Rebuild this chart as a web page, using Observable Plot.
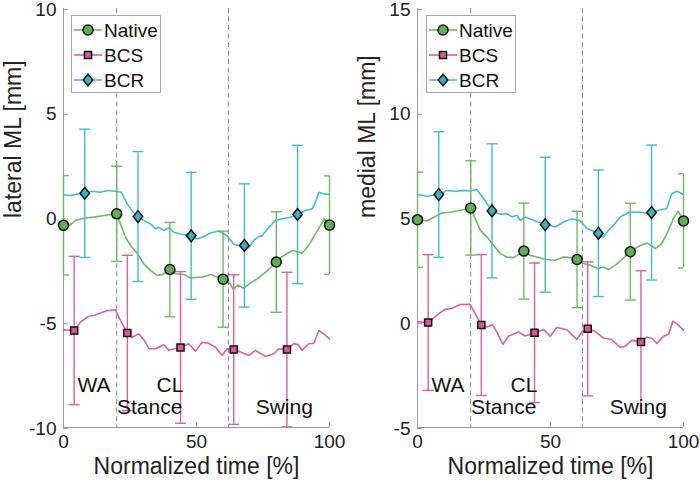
<!DOCTYPE html>
<html><head><meta charset="utf-8">
<script src="https://cdn.jsdelivr.net/npm/d3@7"></script>
<script src="https://cdn.jsdelivr.net/npm/@observablehq/plot@0.6"></script>
<style>
body{margin:0;background:#fff;font-family:"Liberation Sans",Arial,sans-serif;}
#wrap{display:flex;width:700px;height:491px;}
.panel{position:relative;width:350px;height:491px;}
.legend{position:absolute;background:#fff;border:1px solid #a8a8a8;box-sizing:border-box;}
</style></head><body><div id="wrap"></div>
<script>
// ---------- DATA ----------
const seriesNames = ["Native", "BCS", "BCR"];
const xTicks = [0, 50, 100];
const phaseLines = [20, 62];
const lateralTicks = [-10, -5, 0, 5, 10];
const medialTicks = [-5, 0, 5, 10, 15];

// marker time points
const nativeT = [0, 20, 40, 60, 80, 100];
const bcsT = [4, 24, 44, 64, 84];
const bcrT = [8, 28, 48, 68, 88];

// lateral ML: means and SDs at marker points
const latNativeMean = [-0.35, 0.2, -2.46, -2.92, -2.1, -0.34];
const latNativeSD = [2.37, 2.27, 2.25, 2.29, 2.4, 2.35];
const latBcsMean = [-5.37, -5.49, -6.18, -6.28, -6.28];
const latBcsSD = [3.54, 3.71, 3.62, 3.57, 3.69];
const latBcrMean = [1.18, 0.07, -0.85, -1.31, 0.17];
const latBcrSD = [3.06, 3.1, 3.03, 2.94, 3.3];

// medial ML: means and SDs at marker points
const medNativeMean = [4.92, 5.48, 3.42, 3.02, 3.39, 4.86];
const medNativeSD = [2.27, 2.25, 2.29, 2.3, 2.31, 2.25];
const medBcsMean = [0.01, -0.11, -0.48, -0.29, -0.92];
const medBcsSD = [3.24, 3.36, 3.33, 3.2, 3.4];
const medBcrMean = [6.12, 5.34, 4.68, 4.27, 5.26];
const medBcrSD = [3.0, 3.2, 3.22, 3.02, 3.22];

// mean curves [time %, value mm]
const latNativeCurve = [[0,-0.35],[2.6,-0.33],[4.5,-0.12],[7.6,-0.01],[11.4,0.04],[15.2,0.12],[20,0.2],[21.4,-0.28],[23.3,-0.92],[25.2,-1.31],[27.7,-1.68],[30.2,-2.19],[32.7,-2.51],[35.2,-2.74],[37.1,-2.71],[40,-2.46],[42.1,-2.66],[45.2,-2.7],[47.7,-2.86],[50.3,-2.83],[52.1,-2.83],[55.3,-2.7],[60,-2.92],[62.2,-3.06],[63.8,-3.4],[65.5,-3.2],[67.8,-3.35],[70.3,-3.11],[73.4,-2.86],[76.6,-2.51],[80,-2.1],[82.2,-1.84],[86,-1.55],[89.7,-1.68],[92.2,-1.31],[94.7,-0.76],[96.6,-0.36],[98,-0.04],[100,-0.34]];
const latBcsCurve = [[0,-5.34],[4,-5.37],[6.4,-4.97],[9.5,-4.69],[11.4,-4.65],[13.9,-4.54],[16.4,-4.42],[19.5,-4.38],[21.4,-4.89],[24,-5.49],[25.8,-5.69],[28.3,-5.53],[30.2,-5.81],[32.1,-6.24],[34.6,-6.24],[37.7,-6.05],[39.6,-6.32],[41.5,-6.24],[44,-6.18],[47.1,-6.0],[49.6,-6.36],[52.1,-5.93],[54.6,-5.98],[57.1,-6.17],[59.6,-6.56],[61.5,-6.24],[64,-6.28],[66.5,-6.4],[69.7,-6.56],[72.2,-6.32],[75.9,-6.61],[79.1,-6.48],[80.9,-6.24],[84,-6.28],[86.6,-6.0],[88.1,-6.04],[89.7,-6.32],[92.2,-6.0],[94.1,-5.98],[96,-5.37],[97.9,-5.53],[100,-5.77]];
const latBcrCurve = [[0,1.11],[2.6,1.07],[5.8,1.16],[8,1.18],[10.8,1.28],[13.9,1.23],[16.4,1.31],[19.5,1.28],[21.7,1.23],[23.9,0.68],[26.2,0.28],[28,0.07],[30.2,-0.12],[32.7,-0.28],[34.6,-0.52],[35.8,-0.44],[37.7,-0.6],[39.6,-0.47],[41.5,-0.68],[44,-0.76],[48,-0.85],[50.3,-1.0],[52.1,-0.92],[55.3,-0.72],[58.4,-0.62],[61.5,-0.85],[64,-1.26],[65.9,-1.31],[68,-1.31],[69.7,-1.42],[71.5,-1.07],[73.4,-0.88],[74.7,-0.84],[77.2,-0.44],[79.7,-0.12],[82.2,-0.04],[85.3,0.04],[88,0.17],[91,0.36],[93.5,0.44],[94.7,0.75],[96,1.23],[97.9,1.15],[100,1.12]];

const medNativeCurve = [[0,4.92],[3.5,4.86],[6,5.02],[9.1,5.24],[12.9,5.29],[16,5.37],[20,5.48],[21.7,4.97],[23.6,4.42],[26.1,4.1],[28.6,3.7],[31.1,3.3],[33.6,3.14],[36.1,3.11],[38,3.26],[40,3.42],[42.4,3.22],[45.5,3.11],[48,3.02],[51.8,2.98],[54.9,3.14],[57.4,3.11],[60,3.02],[62.4,2.83],[64.9,2.74],[68,2.59],[69.9,2.66],[71.8,2.54],[74.3,2.74],[76.8,3.02],[80,3.39],[83.1,3.65],[86.2,3.81],[89.4,3.54],[91.8,3.78],[94.4,4.42],[96.2,4.97],[98,5.33],[100,4.86]];
const medBcsCurve = [[0,0.04],[4,0.01],[7.3,0.36],[10.4,0.64],[12.9,0.68],[16,0.87],[19.8,0.88],[21.7,0.44],[24,-0.11],[26.1,-0.2],[28.2,-0.09],[29.8,-0.44],[32.1,-1.03],[34.2,-0.64],[38,-0.44],[40.5,-0.63],[44,-0.48],[47.4,-0.33],[49.9,-0.64],[52.4,-0.23],[56.1,-0.33],[59.9,-0.79],[61.8,-0.44],[64,-0.29],[66.8,-0.41],[69.9,-0.73],[73,-0.8],[76.2,-1.18],[78.1,-1.12],[80.6,-0.84],[84,-0.92],[86.2,-0.68],[88.1,-0.75],[90,-0.99],[92.5,-0.64],[94.4,-0.55],[96,0.07],[97.5,-0.04],[100,-0.36]];
const medBcrCurve = [[0,6.12],[3.5,6.04],[8,6.12],[11,6.32],[14.2,6.28],[17.3,6.32],[19.8,6.29],[22.3,6.36],[24.8,5.93],[28,5.34],[31.1,5.18],[33.6,5.21],[35.5,5.05],[37.3,5.13],[38.6,4.89],[40.5,5.05],[43.6,4.89],[48,4.68],[49.9,4.65],[51.8,4.57],[54.9,4.81],[58,4.97],[61.2,4.86],[63.7,4.5],[66.2,4.37],[68,4.27],[69.9,4.1],[71.8,4.42],[73.7,4.65],[76.2,5.05],[79.3,5.26],[83.1,5.29],[85.6,5.24],[88,5.26],[90.6,5.37],[93.7,5.45],[95.6,6.17],[97.5,6.28],[100,6.12]];

// phase annotations [time %, value]
const annoLabels = ["WA", "CL", "Stance", "Swing"];
const annoT = [11.5, 40, 32.4, 83];
const latAnnoV = [-8.0, -8.0, -9.05, -9.05];
const medAnnoV = [-3.0, -3.0, -4.05, -4.05];

// ---------- STYLE ----------
const colors = {Native: "#6eb964", BCS: "#d9639a", BCR: "#43bdcd"};
const markerFill = {Native: "#62ad58", BCS: "#d65a94", BCR: "#38b3c4"};
const axisGray = "#9a9a9a";
const FONT = '"Liberation Sans", Arial, Helvetica, sans-serif';

const capSymbol = {draw(ctx, size) { const r = Math.sqrt(size / Math.PI); ctx.moveTo(-r, 0); ctx.lineTo(r, 0); }};
const diamondSymbol = {draw(ctx, size) { const r = Math.sqrt(size / Math.PI); const w = r * 0.95, h = r * 1.18; ctx.moveTo(0, -h); ctx.lineTo(w, 0); ctx.lineTo(0, h); ctx.lineTo(-w, 0); ctx.closePath(); }};
const symbols = {Native: "circle", BCS: "square", BCR: diamondSymbol};
const symR = {Native: 5, BCS: 4, BCR: 5};

function panel(cfg) {
  const curves = {Native: cfg.nativeCurve, BCS: cfg.bcsCurve, BCR: cfg.bcrCurve};
  const pts = {
    Native: nativeT.map((t, i) => ({t, m: cfg.nativeMean[i], s: cfg.nativeSD[i]})),
    BCS: bcsT.map((t, i) => ({t, m: cfg.bcsMean[i], s: cfg.bcsSD[i]})),
    BCR: bcrT.map((t, i) => ({t, m: cfg.bcrMean[i], s: cfg.bcrSD[i]}))
  };
  const anno = annoLabels.map((l, i) => ({l, t: annoT[i], v: cfg.annoV[i]}));
  const marks = [
    Plot.ruleX(phaseLines, {stroke: "#8a8a8a", strokeDasharray: "5,3.5", strokeWidth: 1}),
    Plot.ruleX([0], {stroke: axisGray, strokeWidth: 1}),
    Plot.ruleY([cfg.yticks[0]], {stroke: axisGray, strokeWidth: 1}),
    Plot.axisX({ticks: xTicks, tickSize: -5, tickPadding: 12, stroke: axisGray, fill: "#222", fontSize: 19, label: null, tickFormat: d => String(d)}),
    Plot.axisY({ticks: cfg.yticks, tickSize: -5, tickPadding: 12, dy: 1, stroke: axisGray, fill: "#222", fontSize: 19, label: null, tickFormat: d => String(d)}),
    Plot.text([cfg.ylabel], {frameAnchor: "left", dx: -50, rotate: -90, fontSize: 23, fill: "#222", text: d => d}),
    Plot.text(["Normalized time [%]"], {frameAnchor: "bottom", dy: 46, fontSize: 23, fill: "#222", text: d => d})
  ];
  for (const s of seriesNames) {
    marks.push(Plot.line(curves[s], {x: d => d[0], y: d => d[1], stroke: colors[s], strokeWidth: 1.6}));
  }
  for (const s of seriesNames) {
    marks.push(Plot.ruleX(pts[s], {x: "t", y1: d => d.m - d.s, y2: d => d.m + d.s, stroke: colors[s], strokeWidth: 1.4}));
    marks.push(Plot.dot(pts[s], {x: "t", y: d => d.m - d.s, symbol: capSymbol, r: 5.5, stroke: colors[s], strokeWidth: 1.4, fill: "none", clip: true}));
    marks.push(Plot.dot(pts[s], {x: "t", y: d => d.m + d.s, symbol: capSymbol, r: 5.5, stroke: colors[s], strokeWidth: 1.4, fill: "none", clip: true}));
  }
  for (const s of seriesNames) {
    marks.push(Plot.dot(pts[s], {x: "t", y: "m", symbol: symbols[s], r: symR[s], fill: markerFill[s], stroke: "#111", strokeWidth: 1.5}));
  }
  marks.push(Plot.text(anno, {x: "t", y: "v", text: "l", fontSize: 21, fill: "#111"}));
  return Plot.plot({
    width: 350, height: 491,
    marginTop: 8, marginBottom: 64, marginLeft: cfg.ml, marginRight: cfg.mr,
    x: {domain: [0, 100]},
    y: {domain: [cfg.yticks[0], cfg.yticks[cfg.yticks.length - 1]]},
    style: {fontFamily: FONT, background: "white", overflow: "visible", color: "#222"},
    marks
  });
}

function legend(left, top) {
  const div = document.createElement("div");
  div.className = "legend";
  div.style.left = left + "px"; div.style.top = top + "px";
  div.style.width = "90px"; div.style.height = "78px";
  const svg = d3.create("svg").attr("width", 88).attr("height", 76).style("display", "block");
  seriesNames.forEach((s, i) => {
    const y = 14 + i * 25;
    const g = svg.append("g").attr("transform", `translate(0,${y})`);
    g.append("line").attr("x1", 2).attr("x2", 30).attr("y1", 0).attr("y2", 0).attr("stroke", colors[s]).attr("stroke-width", 1.6);
    const sym = s === "Native" ? d3.symbolCircle : s === "BCS" ? d3.symbolSquare : diamondSymbol;
    const size = Math.PI * symR[s] * symR[s];
    g.append("path").attr("transform", "translate(16,0)").attr("d", d3.symbol(sym, size)()).attr("fill", markerFill[s]).attr("stroke", "#111").attr("stroke-width", 1.5);
    g.append("text").attr("x", 32).attr("y", 0).attr("dy", "0.35em").attr("font-size", 19).attr("font-family", FONT).attr("fill", "#111").text(s);
  });
  div.appendChild(svg.node());
  return div;
}

const wrap = document.getElementById("wrap");
const cfgs = [
  {ml: 63, mr: 21, yticks: lateralTicks, ylabel: "lateral ML [mm]", nativeCurve: latNativeCurve, bcsCurve: latBcsCurve, bcrCurve: latBcrCurve,
   nativeMean: latNativeMean, nativeSD: latNativeSD, bcsMean: latBcsMean, bcsSD: latBcsSD, bcrMean: latBcrMean, bcrSD: latBcrSD, annoV: latAnnoV, legLeft: 71},
  {ml: 67, mr: 17, yticks: medialTicks, ylabel: "medial ML [mm]", nativeCurve: medNativeCurve, bcsCurve: medBcsCurve, bcrCurve: medBcrCurve,
   nativeMean: medNativeMean, nativeSD: medNativeSD, bcsMean: medBcsMean, bcsSD: medBcsSD, bcrMean: medBcrMean, bcrSD: medBcrSD, annoV: medAnnoV, legLeft: 76}
];
for (const cfg of cfgs) {
  const p = document.createElement("div");
  p.className = "panel";
  p.appendChild(panel(cfg));
  p.appendChild(legend(cfg.legLeft, 15));
  wrap.appendChild(p);
}
</script></body></html>
